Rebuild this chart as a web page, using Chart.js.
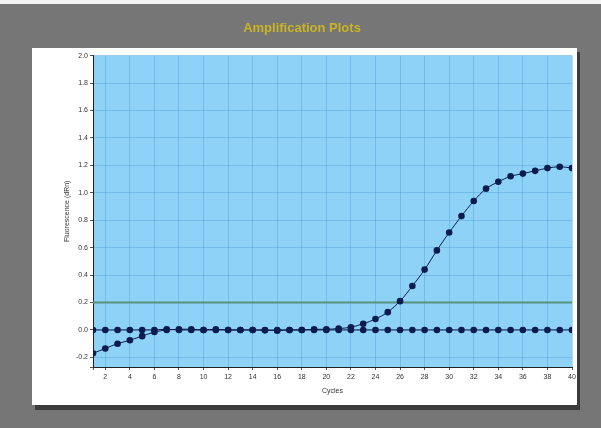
<!DOCTYPE html>
<html>
<head>
<meta charset="utf-8">
<script src="https://cdn.jsdelivr.net/npm/chart.js@4"></script>
<style>
  html, body { margin: 0; padding: 0; background: #767676; }
</style>
</head>
<body>
<canvas id="ampChart" width="601" height="428"></canvas>
<script>
const cycles = [1, 2, 3, 4, 5, 6, 7, 8, 9, 10, 11, 12, 13, 14, 15, 16, 17, 18, 19, 20,
  21, 22, 23, 24, 25, 26, 27, 28, 29, 30, 31, 32, 33, 34, 35, 36, 37, 38, 39, 40];

// amplified sample (dRn)
const sampleRn = [-0.17, -0.135, -0.10, -0.075, -0.045, -0.015, 0.0, 0.005, 0.005, 0.0,
  0.005, 0.0, 0.0, 0.0, 0.0, -0.005, 0.0, 0.0, 0.005, 0.005,
  0.01, 0.02, 0.045, 0.08, 0.13, 0.21, 0.32, 0.44, 0.58, 0.71,
  0.83, 0.94, 1.03, 1.08, 1.12, 1.14, 1.16, 1.18, 1.19, 1.18];

// flat negative / no-template trace
const baselineRn = [0.0, 0.0, 0.0, 0.0, 0.0, 0.0, 0.005, 0.0, 0.0, 0.0,
  0.0, 0.0, 0.0, 0.0, -0.003, 0.0, 0.0, 0.0, 0.0, 0.0,
  0.0, 0.0, 0.0, 0.0, 0.0, 0.0, 0.0, 0.0, 0.0, 0.0,
  0.0, 0.0, 0.0, 0.0, 0.0, 0.0, 0.0, 0.0, 0.0, 0.0];

const threshold = 0.2;

const NAVY = '#0c1c4e';

const backdrop = {
  id: 'backdrop',
  beforeDraw(chart) {
    const ctx = chart.ctx;
    const a = chart.chartArea;
    ctx.save();
    ctx.fillStyle = '#767676';
    ctx.fillRect(0, 0, chart.width, chart.height);
    ctx.fillStyle = '#f4f4f4';
    ctx.fillRect(0, 0, chart.width, 4);
    // panel + drop shadow
    ctx.fillStyle = '#3c3c3c';
    ctx.fillRect(35, 52, 545, 358);
    ctx.fillStyle = '#ffffff';
    ctx.fillRect(32, 48, 545, 357);
    // plot area
    ctx.fillStyle = '#8ed2f8';
    ctx.fillRect(a.left, a.top, a.right - a.left, a.bottom - a.top);
    ctx.restore();
  }
};

new Chart(document.getElementById('ampChart'), {
  type: 'line',
  data: {
    labels: cycles,
    datasets: [
      {
        label: 'Threshold',
        data: cycles.map(c => ({ x: c, y: threshold })),
        borderColor: '#56937f',
        borderWidth: 2,
        pointRadius: 0,
        order: 3
      },
      {
        label: 'Baseline',
        data: cycles.map((c, i) => ({ x: c, y: baselineRn[i] })),
        borderColor: NAVY,
        backgroundColor: NAVY,
        borderWidth: 1,
        pointRadius: 3.3,
        pointBorderWidth: 0,
        order: 2
      },
      {
        label: 'Sample',
        data: cycles.map((c, i) => ({ x: c, y: sampleRn[i] })),
        borderColor: NAVY,
        backgroundColor: NAVY,
        borderWidth: 1,
        pointRadius: 3.3,
        pointBorderWidth: 0,
        tension: 0.3,
        order: 1
      }
    ]
  },
  options: {
    responsive: false,
    animation: false,
    layout: { padding: { left: 32, right: 29, top: 0, bottom: 24 } },
    plugins: {
      legend: { display: false },
      tooltip: { enabled: false },
      title: {
        display: true,
        text: 'Amplification Plots',
        color: '#c8b425',
        font: { family: 'Liberation Sans', size: 13, weight: 'bold' },
        padding: { top: 21, bottom: 19 }
      }
    },
    scales: {
      x: {
        type: 'linear',
        min: 1,
        max: 40,
        afterFit: s => { s.height = 37; },
        border: { color: '#222', width: 1 },
        grid: { color: 'rgba(70,150,205,0.38)', tickLength: 3, tickColor: '#555' },
        ticks: {
          stepSize: 2,
          autoSkip: false,
          maxRotation: 0,
          padding: 3,
          color: '#333',
          font: { family: 'Liberation Sans', size: 7 },
          callback: v => (v % 2 === 0 ? v : '')
        },
        title: {
          display: true,
          text: 'Cycles',
          color: '#333',
          font: { family: 'Liberation Sans', size: 7 },
          padding: { top: 0, bottom: 9 }
        }
      },
      y: {
        min: -0.27,
        max: 2.0,
        afterFit: s => { s.width = 61; },
        border: { color: '#222', width: 1 },
        grid: { color: 'rgba(70,150,205,0.38)', tickLength: 3, tickColor: '#555' },
        ticks: {
          stepSize: 0.2,
          padding: 2,
          color: '#333',
          font: { family: 'Liberation Sans', size: 7 },
          callback: v => (Math.abs(v * 5 - Math.round(v * 5)) < 1e-6 ? v.toFixed(1) : '')
        },
        title: {
          display: true,
          text: 'Fluorescence (dRn)',
          color: '#333',
          font: { family: 'Liberation Sans', size: 7 },
          padding: { top: 31, bottom: 0 }
        }
      }
    }
  },
  plugins: [backdrop]
});
</script>
</body>
</html>
